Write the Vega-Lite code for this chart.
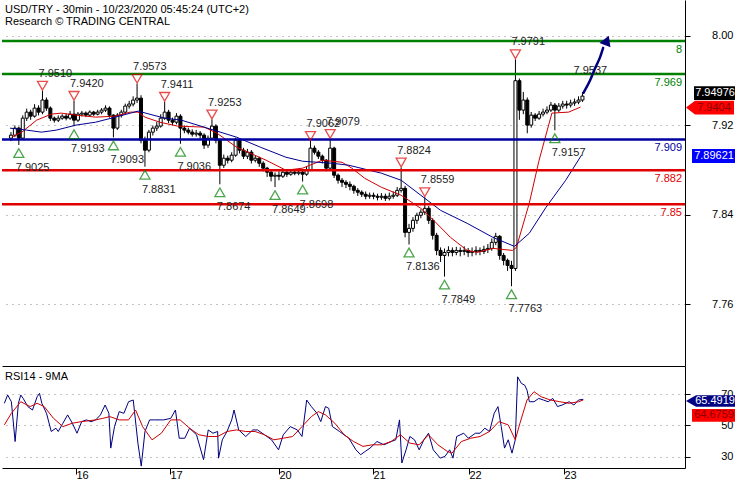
{
  "$schema": "https://vega.github.io/schema/vega-lite/v6.json",
  "padding": 0,
  "spacing": 0,
  "background": "white",
  "config": {
    "view": {"stroke": null},
    "font": "Liberation Sans",
    "axis": {"labelFont": "Liberation Sans", "labelFontSize": 11, "labelColor": "black", "domainColor": "black", "tickColor": "black", "title": null},
    "text": {"font": "Liberation Sans", "fontSize": 11},
    "title": {"font": "Liberation Sans", "fontSize": 11, "fontWeight": "normal", "anchor": "start", "frame": "group", "color": "black", "subtitleFont": "Liberation Sans", "subtitleFontSize": 11, "subtitleColor": "black", "subtitlePadding": 1}
  },
  "datasets": {
    "candles": [
      {"t":1,"o":7.9086,"h":7.9140,"l":7.9060,"c":7.9113},
      {"t":2,"o":7.9113,"h":7.9200,"l":7.9095,"c":7.9176},
      {"t":3,"o":7.9176,"h":7.9190,"l":7.9025,"c":7.9086},
      {"t":4,"o":7.9086,"h":7.9290,"l":7.9070,"c":7.9265},
      {"t":5,"o":7.9265,"h":7.9350,"l":7.9240,"c":7.9319},
      {"t":6,"o":7.9319,"h":7.9340,"l":7.9250,"c":7.9283},
      {"t":7,"o":7.9283,"h":7.9390,"l":7.9270,"c":7.9355},
      {"t":8,"o":7.9355,"h":7.9380,"l":7.9290,"c":7.9319},
      {"t":9,"o":7.9319,"h":7.9510,"l":7.9300,"c":7.9427},
      {"t":10,"o":7.9427,"h":7.9450,"l":7.9330,"c":7.9355},
      {"t":11,"o":7.9355,"h":7.9370,"l":7.9240,"c":7.9265},
      {"t":12,"o":7.9265,"h":7.9280,"l":7.9225,"c":7.9247},
      {"t":13,"o":7.9247,"h":7.9290,"l":7.9230,"c":7.9265},
      {"t":14,"o":7.9265,"h":7.9300,"l":7.9250,"c":7.9283},
      {"t":15,"o":7.9283,"h":7.9305,"l":7.9245,"c":7.9265},
      {"t":16,"o":7.9265,"h":7.9330,"l":7.9250,"c":7.9301},
      {"t":17,"o":7.9301,"h":7.9420,"l":7.9193,"c":7.9247},
      {"t":18,"o":7.9247,"h":7.9320,"l":7.9230,"c":7.9301},
      {"t":19,"o":7.9301,"h":7.9330,"l":7.9280,"c":7.9310},
      {"t":20,"o":7.9310,"h":7.9325,"l":7.9275,"c":7.9292},
      {"t":21,"o":7.9292,"h":7.9335,"l":7.9280,"c":7.9319},
      {"t":22,"o":7.9319,"h":7.9330,"l":7.9285,"c":7.9301},
      {"t":23,"o":7.9301,"h":7.9340,"l":7.9290,"c":7.9319},
      {"t":24,"o":7.9319,"h":7.9355,"l":7.9300,"c":7.9337},
      {"t":25,"o":7.9337,"h":7.9380,"l":7.9320,"c":7.9355},
      {"t":26,"o":7.9355,"h":7.9370,"l":7.9270,"c":7.9292},
      {"t":27,"o":7.9292,"h":7.9300,"l":7.9093,"c":7.9176},
      {"t":28,"o":7.9176,"h":7.9310,"l":7.9160,"c":7.9292},
      {"t":29,"o":7.9292,"h":7.9340,"l":7.9270,"c":7.9319},
      {"t":30,"o":7.9319,"h":7.9395,"l":7.9300,"c":7.9373},
      {"t":31,"o":7.9373,"h":7.9420,"l":7.9350,"c":7.9391},
      {"t":32,"o":7.9391,"h":7.9460,"l":7.9370,"c":7.9427},
      {"t":33,"o":7.9427,"h":7.9573,"l":7.9400,"c":7.9444},
      {"t":34,"o":7.9444,"h":7.9470,"l":7.9040,"c":7.9068},
      {"t":35,"o":7.9068,"h":7.9100,"l":7.8831,"c":7.8979},
      {"t":36,"o":7.8979,"h":7.9160,"l":7.8960,"c":7.9140},
      {"t":37,"o":7.9140,"h":7.9200,"l":7.9110,"c":7.9176},
      {"t":38,"o":7.9176,"h":7.9230,"l":7.9150,"c":7.9194},
      {"t":39,"o":7.9194,"h":7.9300,"l":7.9180,"c":7.9265},
      {"t":40,"o":7.9265,"h":7.9411,"l":7.9250,"c":7.9319},
      {"t":41,"o":7.9319,"h":7.9340,"l":7.9220,"c":7.9247},
      {"t":42,"o":7.9247,"h":7.9270,"l":7.9200,"c":7.9229},
      {"t":43,"o":7.9229,"h":7.9310,"l":7.9210,"c":7.9283},
      {"t":44,"o":7.9283,"h":7.9300,"l":7.9036,"c":7.9176},
      {"t":45,"o":7.9176,"h":7.9200,"l":7.9130,"c":7.9158},
      {"t":46,"o":7.9158,"h":7.9180,"l":7.9120,"c":7.9140},
      {"t":47,"o":7.9140,"h":7.9165,"l":7.9100,"c":7.9122},
      {"t":48,"o":7.9122,"h":7.9160,"l":7.9100,"c":7.9131},
      {"t":49,"o":7.9131,"h":7.9150,"l":7.9080,"c":7.9113},
      {"t":50,"o":7.9113,"h":7.9130,"l":7.8990,"c":7.9024},
      {"t":51,"o":7.9024,"h":7.9110,"l":7.9000,"c":7.9086},
      {"t":52,"o":7.9086,"h":7.9253,"l":7.9070,"c":7.9194},
      {"t":53,"o":7.9194,"h":7.9210,"l":7.9040,"c":7.9068},
      {"t":54,"o":7.9068,"h":7.9080,"l":7.8674,"c":7.8844},
      {"t":55,"o":7.8844,"h":7.8940,"l":7.8820,"c":7.8907},
      {"t":56,"o":7.8907,"h":7.8930,"l":7.8860,"c":7.8889},
      {"t":57,"o":7.8889,"h":7.8960,"l":7.8870,"c":7.8934},
      {"t":58,"o":7.8934,"h":7.9090,"l":7.8920,"c":7.9068},
      {"t":59,"o":7.9068,"h":7.9080,"l":7.8950,"c":7.8979},
      {"t":60,"o":7.8979,"h":7.9000,"l":7.8900,"c":7.8925},
      {"t":61,"o":7.8925,"h":7.8990,"l":7.8900,"c":7.8961},
      {"t":62,"o":7.8961,"h":7.8980,"l":7.8860,"c":7.8889},
      {"t":63,"o":7.8889,"h":7.8930,"l":7.8870,"c":7.8907},
      {"t":64,"o":7.8907,"h":7.8920,"l":7.8830,"c":7.8862},
      {"t":65,"o":7.8862,"h":7.8880,"l":7.8790,"c":7.8818},
      {"t":66,"o":7.8818,"h":7.8830,"l":7.8740,"c":7.8782},
      {"t":67,"o":7.8782,"h":7.8800,"l":7.8700,"c":7.8746},
      {"t":68,"o":7.8746,"h":7.8780,"l":7.8649,"c":7.8755},
      {"t":69,"o":7.8755,"h":7.8790,"l":7.8710,"c":7.8746},
      {"t":70,"o":7.8746,"h":7.8810,"l":7.8730,"c":7.8782},
      {"t":71,"o":7.8782,"h":7.8800,"l":7.8740,"c":7.8764},
      {"t":72,"o":7.8764,"h":7.8805,"l":7.8750,"c":7.8782},
      {"t":73,"o":7.8782,"h":7.8800,"l":7.8755,"c":7.8773},
      {"t":74,"o":7.8773,"h":7.8800,"l":7.8755,"c":7.8782},
      {"t":75,"o":7.8782,"h":7.8800,"l":7.8698,"c":7.8764},
      {"t":76,"o":7.8764,"h":7.8830,"l":7.8750,"c":7.8800},
      {"t":77,"o":7.8800,"h":7.9062,"l":7.8790,"c":7.8997},
      {"t":78,"o":7.8997,"h":7.9020,"l":7.8940,"c":7.8961},
      {"t":79,"o":7.8961,"h":7.8980,"l":7.8900,"c":7.8925},
      {"t":80,"o":7.8925,"h":7.8940,"l":7.8860,"c":7.8889},
      {"t":81,"o":7.8889,"h":7.8900,"l":7.8790,"c":7.8818},
      {"t":82,"o":7.8818,"h":7.9079,"l":7.8800,"c":7.8997},
      {"t":83,"o":7.8997,"h":7.9010,"l":7.8730,"c":7.8755},
      {"t":84,"o":7.8755,"h":7.8770,"l":7.8680,"c":7.8710},
      {"t":85,"o":7.8710,"h":7.8730,"l":7.8650,"c":7.8692},
      {"t":86,"o":7.8692,"h":7.8710,"l":7.8640,"c":7.8674},
      {"t":87,"o":7.8674,"h":7.8700,"l":7.8620,"c":7.8656},
      {"t":88,"o":7.8656,"h":7.8670,"l":7.8590,"c":7.8620},
      {"t":89,"o":7.8620,"h":7.8640,"l":7.8570,"c":7.8603},
      {"t":90,"o":7.8603,"h":7.8620,"l":7.8560,"c":7.8585},
      {"t":91,"o":7.8585,"h":7.8610,"l":7.8540,"c":7.8567},
      {"t":92,"o":7.8567,"h":7.8600,"l":7.8545,"c":7.8576},
      {"t":93,"o":7.8576,"h":7.8600,"l":7.8540,"c":7.8567},
      {"t":94,"o":7.8567,"h":7.8590,"l":7.8530,"c":7.8558},
      {"t":95,"o":7.8558,"h":7.8595,"l":7.8535,"c":7.8567},
      {"t":96,"o":7.8567,"h":7.8590,"l":7.8525,"c":7.8549},
      {"t":97,"o":7.8549,"h":7.8600,"l":7.8530,"c":7.8567},
      {"t":98,"o":7.8567,"h":7.8610,"l":7.8545,"c":7.8576},
      {"t":99,"o":7.8576,"h":7.8650,"l":7.8560,"c":7.8620},
      {"t":100,"o":7.8620,"h":7.8824,"l":7.8600,"c":7.8638},
      {"t":101,"o":7.8638,"h":7.8660,"l":7.8200,"c":7.8244},
      {"t":102,"o":7.8244,"h":7.8320,"l":7.8136,"c":7.8280},
      {"t":103,"o":7.8280,"h":7.8380,"l":7.8250,"c":7.8352},
      {"t":104,"o":7.8352,"h":7.8420,"l":7.8320,"c":7.8397},
      {"t":105,"o":7.8397,"h":7.8450,"l":7.8370,"c":7.8424},
      {"t":106,"o":7.8424,"h":7.8559,"l":7.8400,"c":7.8459},
      {"t":107,"o":7.8459,"h":7.8480,"l":7.8320,"c":7.8352},
      {"t":108,"o":7.8352,"h":7.8370,"l":7.8180,"c":7.8218},
      {"t":109,"o":7.8218,"h":7.8240,"l":7.8040,"c":7.8083},
      {"t":110,"o":7.8083,"h":7.8110,"l":7.7980,"c":7.8038},
      {"t":111,"o":7.8038,"h":7.8100,"l":7.7849,"c":7.8065},
      {"t":112,"o":7.8065,"h":7.8120,"l":7.8030,"c":7.8083},
      {"t":113,"o":7.8083,"h":7.8110,"l":7.8030,"c":7.8065},
      {"t":114,"o":7.8065,"h":7.8115,"l":7.8040,"c":7.8083},
      {"t":115,"o":7.8083,"h":7.8110,"l":7.8030,"c":7.8074},
      {"t":116,"o":7.8074,"h":7.8120,"l":7.8040,"c":7.8083},
      {"t":117,"o":7.8083,"h":7.8105,"l":7.8025,"c":7.8065},
      {"t":118,"o":7.8065,"h":7.8110,"l":7.8030,"c":7.8074},
      {"t":119,"o":7.8074,"h":7.8120,"l":7.8040,"c":7.8083},
      {"t":120,"o":7.8083,"h":7.8110,"l":7.8040,"c":7.8074},
      {"t":121,"o":7.8074,"h":7.8125,"l":7.8050,"c":7.8092},
      {"t":122,"o":7.8092,"h":7.8140,"l":7.8060,"c":7.8101},
      {"t":123,"o":7.8101,"h":7.8190,"l":7.8080,"c":7.8155},
      {"t":124,"o":7.8155,"h":7.8240,"l":7.8130,"c":7.8209},
      {"t":125,"o":7.8209,"h":7.8220,"l":7.8000,"c":7.8038},
      {"t":126,"o":7.8038,"h":7.8060,"l":7.7950,"c":7.7994},
      {"t":127,"o":7.7994,"h":7.8010,"l":7.7900,"c":7.7949},
      {"t":128,"o":7.7949,"h":7.7990,"l":7.7763,"c":7.7922},
      {"t":129,"o":7.7922,"h":7.9791,"l":7.7900,"c":7.9600},
      {"t":130,"o":7.9600,"h":7.9620,"l":7.9250,"c":7.9337},
      {"t":131,"o":7.9337,"h":7.9500,"l":7.9300,"c":7.9427},
      {"t":132,"o":7.9427,"h":7.9450,"l":7.9130,"c":7.9203},
      {"t":133,"o":7.9203,"h":7.9320,"l":7.9180,"c":7.9292},
      {"t":134,"o":7.9292,"h":7.9310,"l":7.9240,"c":7.9265},
      {"t":135,"o":7.9265,"h":7.9330,"l":7.9250,"c":7.9301},
      {"t":136,"o":7.9301,"h":7.9350,"l":7.9280,"c":7.9319},
      {"t":137,"o":7.9319,"h":7.9370,"l":7.9300,"c":7.9337},
      {"t":138,"o":7.9337,"h":7.9410,"l":7.9320,"c":7.9382},
      {"t":139,"o":7.9382,"h":7.9400,"l":7.9157,"c":7.9337},
      {"t":140,"o":7.9337,"h":7.9400,"l":7.9320,"c":7.9373},
      {"t":141,"o":7.9373,"h":7.9420,"l":7.9350,"c":7.9391},
      {"t":142,"o":7.9391,"h":7.9420,"l":7.9350,"c":7.9382},
      {"t":143,"o":7.9382,"h":7.9430,"l":7.9360,"c":7.9400},
      {"t":144,"o":7.9400,"h":7.9440,"l":7.9375,"c":7.9409},
      {"t":145,"o":7.9409,"h":7.9460,"l":7.9390,"c":7.9427},
      {"t":146,"o":7.9427,"h":7.9498,"l":7.9410,"c":7.9462}
    ],
    "redma": [
      {"t":1.25,"v":7.9096},{"t":3.75,"v":7.9140},{"t":7.5,"v":7.9247},{"t":11.25,"v":7.9301},{"t":13.75,"v":7.9310},
      {"t":17.5,"v":7.9292},{"t":22.5,"v":7.9274},{"t":27.5,"v":7.9283},{"t":31.25,"v":7.9319},{"t":33.25,"v":7.9319},
      {"t":35,"v":7.9274},{"t":38.75,"v":7.9229},{"t":43.25,"v":7.9194},{"t":50,"v":7.9185},{"t":53.25,"v":7.9131},
      {"t":58.25,"v":7.9006},{"t":65.75,"v":7.8889},{"t":70.75,"v":7.8800},{"t":75,"v":7.8818},{"t":80,"v":7.8889},
      {"t":85,"v":7.8871},{"t":87.5,"v":7.8818},{"t":90.75,"v":7.8728},{"t":95,"v":7.8647},{"t":100,"v":7.8576},
      {"t":105,"v":7.8459},{"t":108.25,"v":7.8352},{"t":112.5,"v":7.8200},{"t":116.75,"v":7.8083},{"t":119.25,"v":7.8065},
      {"t":123.25,"v":7.8101},{"t":128.25,"v":7.8083},{"t":129.25,"v":7.8110},{"t":132.5,"v":7.8504},{"t":135,"v":7.8889},
      {"t":138.25,"v":7.9310},{"t":142.5,"v":7.9319},{"t":145.5,"v":7.9364}
    ],
    "bluema": [
      {"t":0.75,"v":7.9176},{"t":5,"v":7.9158},{"t":8.75,"v":7.9140},{"t":12.5,"v":7.9158},{"t":17.5,"v":7.9203},
      {"t":22.5,"v":7.9229},{"t":27.5,"v":7.9274},{"t":33.25,"v":7.9328},{"t":40,"v":7.9265},{"t":44.25,"v":7.9247},
      {"t":50,"v":7.9185},{"t":58.25,"v":7.9095},{"t":64.25,"v":7.9006},{"t":70.75,"v":7.8916},{"t":75,"v":7.8880},
      {"t":82.5,"v":7.8862},{"t":86.75,"v":7.8844},{"t":95,"v":7.8773},{"t":100,"v":7.8710},{"t":105,"v":7.8576},
      {"t":110,"v":7.8441},{"t":116.75,"v":7.8325},{"t":123.25,"v":7.8200},{"t":128.75,"v":7.8119},{"t":132.5,"v":7.8236},
      {"t":136.75,"v":7.8468},{"t":141.75,"v":7.8710},{"t":145.75,"v":7.8934}
    ],
    "levels": [
      {"v":7.9955,"lab":"8","kind":"resistance"},
      {"v":7.9660,"lab":"7.969","kind":"resistance"},
      {"v":7.9075,"lab":"7.909","kind":"pivot"},
      {"v":7.8800,"lab":"7.882","kind":"support"},
      {"v":7.8495,"lab":"7.85","kind":"support"}
    ],
    "highs": [
      {"t":9,"v":7.9510,"lab":"7.9510"},{"t":17,"v":7.9420,"lab":"7.9420"},{"t":33,"v":7.9573,"lab":"7.9573"},
      {"t":40,"v":7.9411,"lab":"7.9411"},{"t":52,"v":7.9253,"lab":"7.9253"},{"t":77,"v":7.9062,"lab":"7.9062"},
      {"t":82,"v":7.9079,"lab":"7.9079"},{"t":100,"v":7.8824,"lab":"7.8824"},{"t":106,"v":7.8559,"lab":"7.8559"},
      {"t":129,"v":7.9791,"lab":"7.9791"}
    ],
    "lows": [
      {"t":3,"v":7.9025,"lab":"7.9025"},{"t":17,"v":7.9193,"lab":"7.9193"},{"t":27,"v":7.9093,"lab":"7.9093"},
      {"t":35,"v":7.8831,"lab":"7.8831"},{"t":44,"v":7.9036,"lab":"7.9036"},{"t":54,"v":7.8674,"lab":"7.8674"},
      {"t":68,"v":7.8649,"lab":"7.8649"},{"t":75,"v":7.8698,"lab":"7.8698"},{"t":102,"v":7.8136,"lab":"7.8136"},
      {"t":111,"v":7.7849,"lab":"7.7849"},{"t":128,"v":7.7763,"lab":"7.7763"},{"t":139,"v":7.9157,"lab":"7.9157"}
    ],
    "note": [{"t":144.75,"v":7.9537,"lab":"7.9537"}],
    "arrow": [
      {"t":146.25,"v":7.9492},{"t":148,"v":7.9608},{"t":149.25,"v":7.9715},{"t":150.5,"v":7.9813},{"t":151.25,"v":7.9893}
    ],
    "arrowhead": [{"t":152.2,"v":7.9960}],
    "rsi": [
      {"t":0.59,"v":64.1},{"t":1.41,"v":69.4},{"t":2.34,"v":65.1},{"t":3.28,"v":39.7},{"t":4.10,"v":64.1},
      {"t":4.69,"v":69.4},{"t":5.27,"v":67.3},{"t":6.45,"v":62.0},{"t":7.62,"v":59.8},{"t":8.79,"v":68.3},
      {"t":9.38,"v":70.4},{"t":9.96,"v":64.1},{"t":11.13,"v":57.7},{"t":12.31,"v":46.1},{"t":13.48,"v":48.2},
      {"t":14.06,"v":46.1},{"t":15.23,"v":51.4},{"t":16.41,"v":56.7},{"t":17.58,"v":51.4},{"t":18.75,"v":45.0},
      {"t":19.92,"v":52.4},{"t":21.09,"v":53.5},{"t":22.27,"v":52.4},{"t":23.44,"v":53.5},{"t":24.61,"v":56.7},
      {"t":25.78,"v":63.0},{"t":26.72,"v":57.7},{"t":27.19,"v":35.5},{"t":28.13,"v":49.2},{"t":29.30,"v":58.8},
      {"t":30.47,"v":57.7},{"t":31.64,"v":65.1},{"t":32.81,"v":66.2},{"t":33.98,"v":38.7},{"t":34.81,"v":24.0},
      {"t":35.74,"v":46.1},{"t":36.91,"v":53.5},{"t":38.09,"v":53.5},{"t":40.43,"v":53.5},{"t":42.19,"v":54.5},
      {"t":43.36,"v":59.8},{"t":44.30,"v":41.8},{"t":45.70,"v":41.8},{"t":46.88,"v":48.2},{"t":48.63,"v":44.0},
      {"t":50.39,"v":28.1},{"t":51.56,"v":47.1},{"t":52.73,"v":45.0},{"t":53.91,"v":46.1},{"t":54.14,"v":29.1},
      {"t":55.08,"v":40.8},{"t":56.25,"v":46.1},{"t":57.42,"v":53.5},{"t":58.01,"v":59.8},{"t":59.18,"v":47.1},
      {"t":60.94,"v":42.9},{"t":62.70,"v":47.1},{"t":63.87,"v":47.1},{"t":65.63,"v":44.0},{"t":67.38,"v":40.8},
      {"t":69.14,"v":34.4},{"t":70.31,"v":44.0},{"t":72.07,"v":49.2},{"t":73.83,"v":47.1},{"t":75.00,"v":42.9},
      {"t":76.17,"v":66.2},{"t":77.34,"v":62.0},{"t":78.75,"v":57.7},{"t":79.69,"v":52.4},{"t":80.86,"v":62.0},
      {"t":81.68,"v":60.9},{"t":82.62,"v":49.2},{"t":84.38,"v":46.1},{"t":86.72,"v":41.8},{"t":88.48,"v":34.4},
      {"t":89.65,"v":31.3},{"t":90.82,"v":33.4},{"t":92.00,"v":35.5},{"t":93.75,"v":39.7},{"t":95.51,"v":37.6},
      {"t":97.27,"v":39.7},{"t":98.44,"v":40.8},{"t":99.38,"v":53.5},{"t":99.96,"v":26.0},{"t":101.02,"v":34.4},
      {"t":101.96,"v":42.9},{"t":103.13,"v":40.8},{"t":104.30,"v":34.4},{"t":105.47,"v":40.8},{"t":106.64,"v":45.0},
      {"t":107.81,"v":34.4},{"t":109.57,"v":29.1},{"t":110.74,"v":30.2},{"t":111.92,"v":34.4},{"t":112.74,"v":29.1},
      {"t":113.67,"v":42.9},{"t":115.43,"v":45.0},{"t":116.60,"v":41.8},{"t":118.36,"v":45.0},{"t":119.53,"v":45.0},
      {"t":120.70,"v":48.2},{"t":121.88,"v":46.1},{"t":123.05,"v":57.7},{"t":123.99,"v":62.0},{"t":124.81,"v":49.2},
      {"t":125.63,"v":35.5},{"t":126.56,"v":40.8},{"t":127.50,"v":32.3},{"t":128.32,"v":40.8},{"t":128.91,"v":81.0},
      {"t":129.84,"v":76.8},{"t":130.66,"v":75.7},{"t":131.25,"v":72.5},{"t":131.84,"v":65.1},{"t":133.01,"v":65.1},
      {"t":134.18,"v":67.2},{"t":135.35,"v":66.2},{"t":136.52,"v":65.1},{"t":137.70,"v":67.2},{"t":138.87,"v":62.0},
      {"t":140.04,"v":63.0},{"t":141.80,"v":65.1},{"t":142.97,"v":63.0},{"t":144.14,"v":66.2},{"t":145.31,"v":66.6}
    ],
    "rsima": [
      {"t":0.59,"v":50.3},{"t":2.34,"v":57.7},{"t":4.69,"v":65.1},{"t":7.03,"v":62.0},{"t":8.79,"v":64.1},
      {"t":10.55,"v":62.0},{"t":12.89,"v":54.5},{"t":15.23,"v":49.2},{"t":17.58,"v":51.4},{"t":19.92,"v":52.4},
      {"t":23.44,"v":53.5},{"t":25.20,"v":54.5},{"t":26.95,"v":55.6},{"t":29.30,"v":53.5},{"t":31.64,"v":53.5},
      {"t":33.40,"v":59.8},{"t":35.16,"v":49.2},{"t":37.50,"v":40.8},{"t":39.84,"v":45.0},{"t":42.19,"v":53.5},
      {"t":44.53,"v":53.5},{"t":46.88,"v":48.2},{"t":49.22,"v":44.0},{"t":51.56,"v":42.9},{"t":53.91,"v":42.9},
      {"t":56.25,"v":46.1},{"t":58.59,"v":47.1},{"t":60.94,"v":46.1},{"t":63.28,"v":46.1},{"t":65.63,"v":44.0},
      {"t":67.97,"v":40.8},{"t":70.31,"v":41.8},{"t":72.66,"v":42.9},{"t":75.00,"v":49.2},{"t":77.34,"v":55.6},
      {"t":79.10,"v":58.8},{"t":80.86,"v":56.7},{"t":83.20,"v":51.4},{"t":85.55,"v":44.0},{"t":87.89,"v":39.7},
      {"t":90.23,"v":36.6},{"t":92.58,"v":37.6},{"t":94.92,"v":37.6},{"t":97.27,"v":39.7},{"t":99.61,"v":44.0},
      {"t":101.96,"v":38.7},{"t":104.30,"v":37.6},{"t":106.64,"v":44.0},{"t":108.98,"v":37.6},{"t":111.33,"v":33.4},
      {"t":112.50,"v":32.3},{"t":114.84,"v":39.7},{"t":117.19,"v":41.8},{"t":119.53,"v":42.9},{"t":121.88,"v":46.1},
      {"t":124.22,"v":52.4},{"t":126.56,"v":50.3},{"t":128.32,"v":40.8},{"t":129.49,"v":51.4},{"t":131.25,"v":66.2},
      {"t":133.01,"v":71.5},{"t":134.77,"v":68.3},{"t":137.11,"v":66.2},{"t":139.45,"v":65.1},{"t":141.80,"v":64.1},
      {"t":144.14,"v":65.1},{"t":145.31,"v":66.2}
    ],
    "lastprice": [{"v":7.94976,"lab":"7.94976"}],
    "bid": [{"v":7.9404,"lab":"7.9404"}],
    "pivotprice": [{"v":7.89621,"lab":"7.89621"}],
    "rsilast": [{"v":65.4919,"lab":"65.4919"}],
    "rsimalast": [{"v":64.6759,"lab":"64.6759"}]
  },
  "vconcat": [
    {
      "width": 683,
      "height": 366,
      "title": {"text": "USD/TRY - 30min - 10/23/2020 05:45:24 (UTC+2)", "subtitle": "Research © TRADING CENTRAL", "offset": -27, "dx": 3},
      "layer": [
        {
          "data": {"name": "candles"},
          "mark": {"type": "rule", "color": "black", "strokeWidth": 1},
          "encoding": {
            "x": {"field": "t", "type": "quantitative", "scale": {"domain": [0, 170.75], "nice": false, "zero": false},
                  "axis": {"labels": false, "ticks": false, "grid": false, "domain": true, "domainColor": "black"}},
            "y": {"field": "l", "type": "quantitative", "scale": {"domain": [7.705, 8.0321], "nice": false, "zero": false},
                  "axis": {"orient": "right", "values": [7.76, 7.84, 7.92, 8.0], "format": ".2f", "tickSize": 5, "labelAlign": "right", "labelPadding": 43,
                           "grid": true, "gridDash": [1, 5], "gridColor": "#888888", "domainColor": "black"}},
            "y2": {"field": "h"}
          }
        },
        {
          "data": {"name": "candles"},
          "mark": {"type": "bar", "width": 3, "stroke": "black", "strokeWidth": 1},
          "encoding": {
            "x": {"field": "t", "type": "quantitative"},
            "y": {"field": "o", "type": "quantitative"},
            "y2": {"field": "c"},
            "fill": {"condition": {"test": "datum.c > datum.o", "value": "white"}, "value": "black"}
          }
        },
        {
          "data": {"name": "redma"},
          "mark": {"type": "line", "color": "#d00000", "strokeWidth": 1},
          "encoding": {"x": {"field": "t", "type": "quantitative"}, "y": {"field": "v", "type": "quantitative"}}
        },
        {
          "data": {"name": "bluema"},
          "mark": {"type": "line", "color": "#000090", "strokeWidth": 1},
          "encoding": {"x": {"field": "t", "type": "quantitative"}, "y": {"field": "v", "type": "quantitative"}}
        },
        {
          "data": {"name": "levels"},
          "mark": {"type": "rule", "strokeWidth": 2.5},
          "encoding": {
            "y": {"field": "v", "type": "quantitative"},
            "color": {"field": "kind", "type": "nominal", "scale": {"domain": ["resistance", "pivot", "support"], "range": ["#008000", "#0000a0", "#e00000"]}, "legend": null}
          }
        },
        {
          "data": {"name": "levels"},
          "mark": {"type": "text", "x": "width", "dx": -3, "dy": 9, "align": "right", "baseline": "middle", "fontSize": 11},
          "encoding": {
            "y": {"field": "v", "type": "quantitative"},
            "text": {"field": "lab"},
            "color": {"field": "kind", "type": "nominal", "legend": null}
          }
        },
        {
          "data": {"name": "highs"},
          "mark": {"type": "point", "shape": "triangle-down", "size": 100, "filled": false, "color": "#e00000", "strokeWidth": 1.3, "yOffset": -5},
          "encoding": {"x": {"field": "t", "type": "quantitative"}, "y": {"field": "v", "type": "quantitative"}}
        },
        {
          "data": {"name": "highs"},
          "mark": {"type": "text", "align": "left", "baseline": "middle", "dx": -4, "dy": -17, "color": "#222222", "fontSize": 11},
          "encoding": {"x": {"field": "t", "type": "quantitative"}, "y": {"field": "v", "type": "quantitative"}, "text": {"field": "lab"}}
        },
        {
          "data": {"name": "note"},
          "mark": {"type": "text", "align": "left", "baseline": "middle", "dx": -4, "dy": -17, "color": "#222222", "fontSize": 11},
          "encoding": {"x": {"field": "t", "type": "quantitative"}, "y": {"field": "v", "type": "quantitative"}, "text": {"field": "lab"}}
        },
        {
          "data": {"name": "lows"},
          "mark": {"type": "point", "shape": "triangle-up", "size": 100, "filled": false, "color": "#008000", "strokeWidth": 1.3, "yOffset": 8},
          "encoding": {"x": {"field": "t", "type": "quantitative"}, "y": {"field": "v", "type": "quantitative"}}
        },
        {
          "data": {"name": "lows"},
          "mark": {"type": "text", "align": "left", "baseline": "middle", "dx": -3, "dy": 23, "color": "#222222", "fontSize": 11},
          "encoding": {"x": {"field": "t", "type": "quantitative"}, "y": {"field": "v", "type": "quantitative"}, "text": {"field": "lab"}}
        },
        {
          "data": {"name": "arrow"},
          "mark": {"type": "line", "color": "#00007f", "strokeWidth": 2.5, "strokeCap": "round", "interpolate": "monotone"},
          "encoding": {"x": {"field": "t", "type": "quantitative"}, "y": {"field": "v", "type": "quantitative"}}
        },
        {
          "data": {"name": "arrowhead"},
          "mark": {"type": "point", "shape": "triangle-up", "size": 140, "filled": true, "color": "#00007f", "opacity": 1, "angle": 22},
          "encoding": {"x": {"field": "t", "type": "quantitative"}, "y": {"field": "v", "type": "quantitative"}}
        },
        {
          "data": {"name": "lastprice"},
          "mark": {"type": "point", "x": "width", "xOffset": 30, "yOffset": 1, "shape": "M-1,-0.33L1,-0.33L1,0.33L-1,0.33Z", "size": 1764, "filled": true, "color": "black", "opacity": 1},
          "encoding": {"y": {"field": "v", "type": "quantitative"}}
        },
        {
          "data": {"name": "lastprice"},
          "mark": {"type": "text", "x": "width", "dx": 30, "dy": 1, "align": "center", "baseline": "middle", "color": "white", "fontSize": 11},
          "encoding": {"y": {"field": "v", "type": "quantitative"}, "text": {"field": "lab"}}
        },
        {
          "data": {"name": "bid"},
          "mark": {"type": "point", "x": "width", "xOffset": 25, "yOffset": 5, "shape": "M-1,0L-0.625,-0.29L1,-0.29L1,0.29L-0.625,0.29Z", "size": 2304, "filled": true, "color": "#ff0000", "opacity": 1},
          "encoding": {"y": {"field": "v", "type": "quantitative"}}
        },
        {
          "data": {"name": "bid"},
          "mark": {"type": "text", "x": "width", "dx": 29, "dy": 5, "align": "center", "baseline": "middle", "color": "#8b0000", "fontSize": 11},
          "encoding": {"y": {"field": "v", "type": "quantitative"}, "text": {"field": "lab"}}
        },
        {
          "data": {"name": "pivotprice"},
          "mark": {"type": "point", "x": "width", "xOffset": 29, "yOffset": 4, "shape": "M-1,-0.32L1,-0.32L1,0.32L-1,0.32Z", "size": 1936, "filled": true, "color": "#0000ff", "opacity": 1},
          "encoding": {"y": {"field": "v", "type": "quantitative"}}
        },
        {
          "data": {"name": "pivotprice"},
          "mark": {"type": "text", "x": "width", "dx": 29, "dy": 4, "align": "center", "baseline": "middle", "color": "white", "fontSize": 11},
          "encoding": {"y": {"field": "v", "type": "quantitative"}, "text": {"field": "lab"}}
        }
      ]
    },
    {
      "width": 683,
      "height": 102,
      "title": {"text": "RSI14 - 9MA", "offset": -16, "dx": 3},
      "layer": [
        {
          "data": {"name": "rsi"},
          "mark": {"type": "line", "color": "#000080", "strokeWidth": 1},
          "encoding": {
            "x": {"field": "t", "type": "quantitative", "scale": {"domain": [0, 170.75], "nice": false, "zero": false},
                  "axis": {"values": [18.5, 42, 69.25, 92.75, 116.75, 140.5], "tickSize": 6, "labelAlign": "left", "labelBaseline": "top", "labelPadding": -5, "labelDx": 3, "grid": false, "domainColor": "black",
                           "labelExpr": "datum.value < 20 ? '16' : datum.value < 50 ? '17' : datum.value < 80 ? '20' : datum.value < 100 ? '21' : datum.value < 130 ? '22' : '23'"}},
            "y": {"field": "v", "type": "quantitative", "scale": {"domain": [22.8, 87.9], "nice": false, "zero": false},
                  "axis": {"orient": "right", "values": [30, 50, 70], "tickSize": 5, "labelAlign": "right", "labelPadding": 43, "grid": true, "gridDash": [1, 5], "gridColor": "#888888", "domainColor": "black"}}
          }
        },
        {
          "data": {"name": "rsima"},
          "mark": {"type": "line", "color": "#cc0000", "strokeWidth": 1},
          "encoding": {"x": {"field": "t", "type": "quantitative"}, "y": {"field": "v", "type": "quantitative"}}
        },
        {
          "data": {"name": "rsilast"},
          "mark": {"type": "point", "x": "width", "xOffset": 26, "yOffset": 0, "shape": "M-1,0L-0.6,-0.23L1,-0.23L1,0.23L-0.6,0.23Z", "size": 2500, "filled": true, "color": "#000080", "opacity": 1},
          "encoding": {"y": {"field": "v", "type": "quantitative"}}
        },
        {
          "data": {"name": "rsilast"},
          "mark": {"type": "text", "x": "width", "dx": 30, "dy": 0, "align": "center", "baseline": "middle", "color": "white", "fontSize": 11},
          "encoding": {"y": {"field": "v", "type": "quantitative"}, "text": {"field": "lab"}}
        },
        {
          "data": {"name": "rsimalast"},
          "mark": {"type": "point", "x": "width", "xOffset": 29, "yOffset": 13, "shape": "M-1,-0.29L1,-0.29L1,0.29L-1,0.29Z", "size": 1936, "filled": true, "color": "#ff0000", "opacity": 1},
          "encoding": {"y": {"field": "v", "type": "quantitative"}}
        },
        {
          "data": {"name": "rsimalast"},
          "mark": {"type": "text", "x": "width", "dx": 29, "dy": 13, "align": "center", "baseline": "middle", "color": "#8b0000", "fontSize": 11},
          "encoding": {"y": {"field": "v", "type": "quantitative"}, "text": {"field": "lab"}}
        }
      ]
    }
  ]
}
